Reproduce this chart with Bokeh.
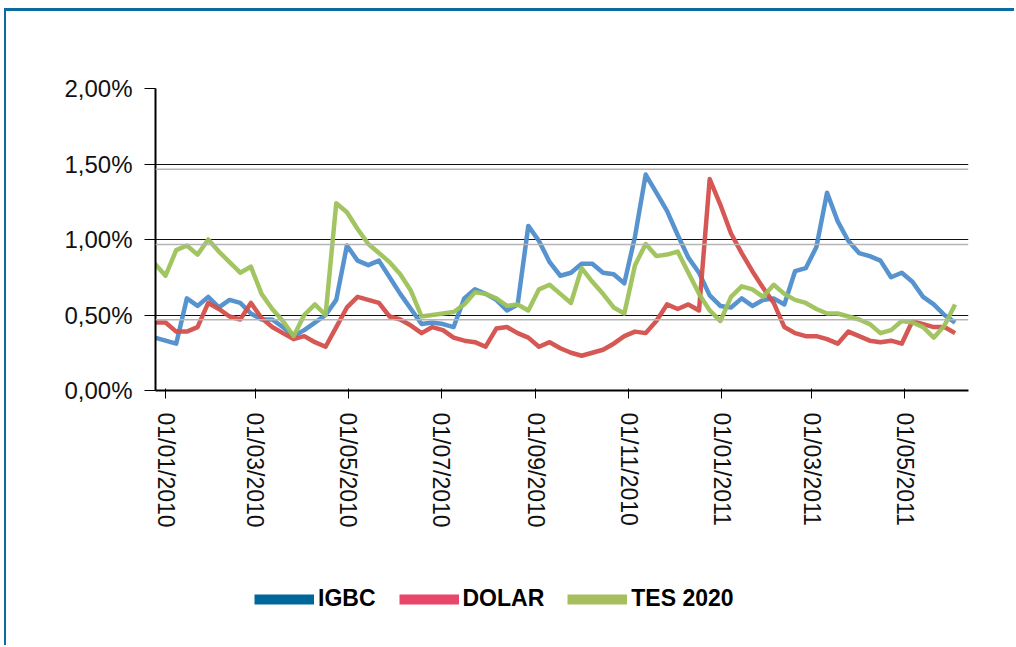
import pandas as pd
from datetime import datetime
from bokeh.plotting import figure
from bokeh.layouts import column
from bokeh.models import Range1d, FixedTicker, Legend, LegendItem, Span, DatetimeTickFormatter
from bokeh.embed import file_html
from bokeh.resources import INLINE

# weekly observations (percent) starting 2009-12-25
first_week = "2009-12-25"
igbc = [0.35, 0.33, 0.31, 0.61, 0.56, 0.62, 0.55, 0.60, 0.58, 0.51,
        0.47, 0.47, 0.42, 0.36, 0.40, 0.45, 0.50, 0.60, 0.96, 0.86,
        0.83, 0.86, 0.75, 0.64, 0.54, 0.44, 0.45, 0.44, 0.42, 0.61,
        0.67, 0.64, 0.60, 0.53, 0.57, 1.09, 0.99, 0.85, 0.76, 0.78,
        0.84, 0.84, 0.78, 0.77, 0.71, 1.02, 1.43, 1.31, 1.19, 1.03,
        0.88, 0.78, 0.63, 0.56, 0.55, 0.61, 0.56, 0.60, 0.61, 0.57,
        0.79, 0.81, 0.95, 1.31, 1.12, 0.99, 0.91, 0.89, 0.86, 0.75,
        0.78, 0.72, 0.62, 0.57, 0.50, 0.45]
dolar = [0.45, 0.45, 0.39, 0.39, 0.42, 0.58, 0.54, 0.49, 0.47, 0.58,
         0.48, 0.42, 0.38, 0.34, 0.36, 0.32, 0.29, 0.42, 0.55, 0.62,
         0.60, 0.58, 0.49, 0.47, 0.43, 0.38, 0.42, 0.40, 0.35, 0.33,
         0.32, 0.29, 0.41, 0.42, 0.38, 0.35, 0.29, 0.32, 0.28, 0.25,
         0.23, 0.25, 0.27, 0.31, 0.36, 0.39, 0.38, 0.46, 0.57, 0.54,
         0.57, 0.53, 1.40, 1.23, 1.04, 0.91, 0.79, 0.68, 0.58, 0.42,
         0.38, 0.36, 0.36, 0.34, 0.31, 0.39, 0.36, 0.33, 0.32, 0.33,
         0.31, 0.46, 0.44, 0.42, 0.42, 0.38]
tes2020 = [0.84, 0.76, 0.93, 0.96, 0.90, 1.00, 0.92, 0.85, 0.78, 0.82,
           0.64, 0.54, 0.46, 0.36, 0.50, 0.57, 0.50, 1.24, 1.18, 1.07,
           0.97, 0.91, 0.85, 0.77, 0.66, 0.49, 0.50, 0.51, 0.52, 0.57,
           0.65, 0.64, 0.61, 0.56, 0.57, 0.53, 0.67, 0.70, 0.64, 0.58,
           0.81, 0.72, 0.64, 0.55, 0.51, 0.83, 0.97, 0.89, 0.90, 0.92,
           0.78, 0.64, 0.53, 0.46, 0.62, 0.69, 0.67, 0.62, 0.70, 0.64,
           0.60, 0.58, 0.54, 0.51, 0.51, 0.49, 0.47, 0.44, 0.38, 0.40,
           0.46, 0.45, 0.42, 0.35, 0.43, 0.57]
dates = pd.date_range(first_week, periods=len(igbc), freq="7D")

series_names = ["IGBC", "DOLAR", "TES 2020"]
line_colors = ["#4d8dcc", "#d44f4b", "#9dc25a"]
legend_colors = ["#00679b", "#e8466b", "#a6be5e"]

y_ticks = [0.0, 0.5, 1.0, 1.5, 2.0]
y_tick_labels = ["0,00%", "0,50%", "1,00%", "1,50%", "2,00%"]
x_tick_dates = ["2010-01-01", "2010-03-01", "2010-05-01", "2010-07-01", "2010-09-01",
                "2010-11-01", "2011-01-01", "2011-03-01", "2011-05-01"]
ghost_levels = [1.465, 0.967, 0.468]

p = figure(width=1008, height=529, output_backend="svg", toolbar_location=None,
           x_axis_type="datetime",
           x_range=Range1d(datetime(2009, 12, 25, 10), datetime(2011, 6, 11, 19)),
           y_range=Range1d(0, 2.0),
           min_border_left=149, min_border_right=46, min_border_top=77, min_border_bottom=150)
p.outline_line_color = None
p.background_fill_color = "white"
p.border_fill_color = "white"

p.xgrid.visible = False
p.ygrid.grid_line_color = "#111111"
p.ygrid.grid_line_width = 1.2
p.yaxis.ticker = FixedTicker(ticks=y_ticks)
p.yaxis.major_label_overrides = {t: l for t, l in zip(y_ticks, y_tick_labels)}

for lv in ghost_levels:
    p.add_layout(Span(location=lv, dimension="width", line_color="#b5b5b5", line_width=1.5))

tick_ms = [pd.Timestamp(d).value // 10**6 for d in x_tick_dates]
p.xaxis.ticker = FixedTicker(ticks=tick_ms)
p.xaxis.formatter = DatetimeTickFormatter(days="%d/%m/%Y", months="%d/%m/%Y", years="%d/%m/%Y")
p.xaxis.major_label_orientation = "vertical"

for ax in (p.xaxis[0], p.yaxis[0]):
    ax.axis_line_color = "black"
    ax.axis_line_width = 2
    ax.major_tick_line_color = "black"
    ax.major_tick_line_width = 1
    ax.minor_tick_line_color = None
    ax.major_label_text_font = "Liberation Sans"
    ax.major_label_text_font_size = "23px"
    ax.major_label_text_color = "#111111"
p.yaxis.major_label_text_font_size = "24px"
p.yaxis.major_tick_out = 11
p.yaxis.major_tick_in = 0
p.yaxis.major_label_standoff = 12
p.xaxis.major_tick_out = 8
p.xaxis.major_tick_in = 2
p.xaxis.major_label_standoff = 14

for vals, col in zip([igbc, dolar, tes2020], line_colors):
    p.line(dates, vals, line_color=col, line_width=4.5, line_join="round", alpha=0.95)

# legend strip below the chart (its frame is aligned with the chart frame)
pl = figure(width=1008, height=105, output_backend="svg", toolbar_location=None,
            x_range=Range1d(0, 1), y_range=Range1d(0, 1),
            x_axis_location=None, y_axis_location=None, min_border=0)
pl.outline_line_color = None
pl.grid.visible = False
items = []
for name, col in zip(series_names, legend_colors):
    # swatch renderers: points lie outside the visible range, only the legend shows them
    r = pl.line(x=[-5, -4], y=[-5, -4], line_color=col, line_width=10, line_cap="butt")
    items.append(LegendItem(label=name, renderers=[r]))

legend = Legend(items=items, orientation="horizontal", location=(99, 33),
                glyph_width=60, glyph_height=24, label_height=24, label_standoff=4,
                spacing=23, padding=0, margin=0, border_line_color=None,
                background_fill_alpha=0,
                label_text_font="Liberation Sans", label_text_font_style="bold",
                label_text_font_size="23px", label_text_color="black")
pl.add_layout(legend, "center")

page = column(p, pl, spacing=0)
page.styles = {"border-top": "3px solid #0e6ba2", "border-left": "2px solid #0e6ba2",
               "margin-top": "8px", "margin-left": "4px"}

open("out.html", "w").write(file_html(page, INLINE))
